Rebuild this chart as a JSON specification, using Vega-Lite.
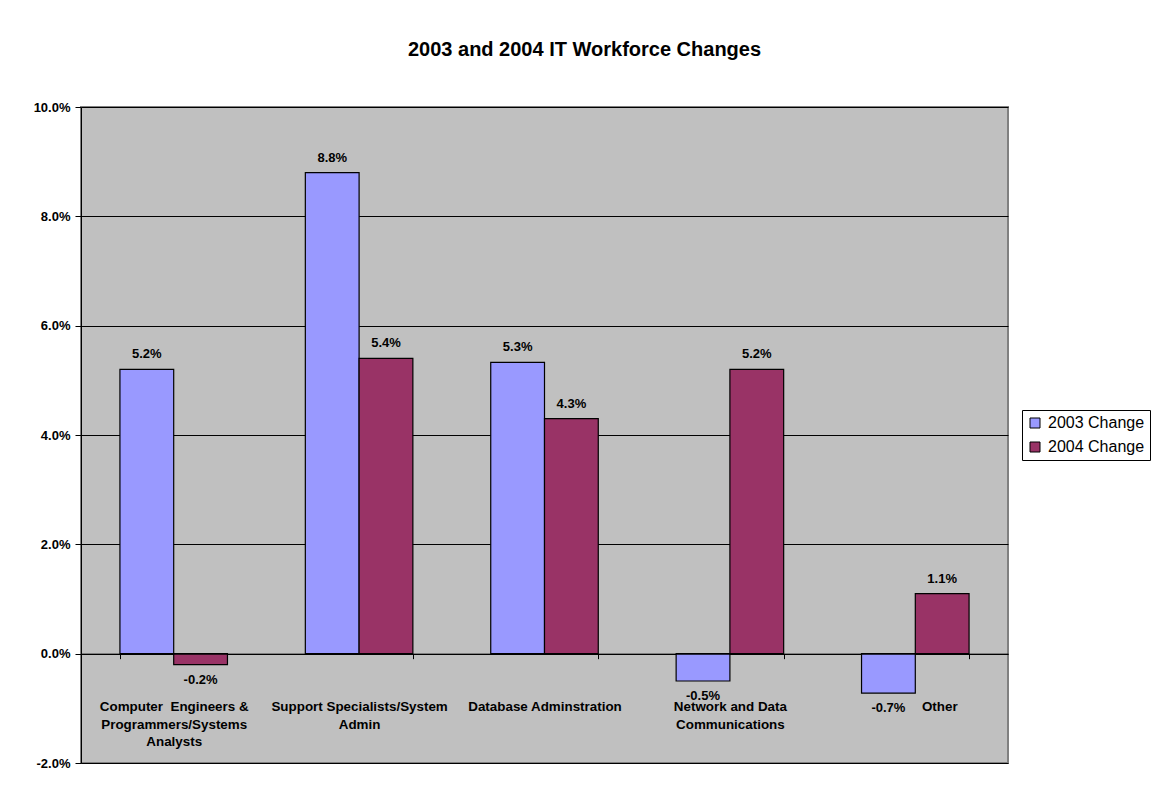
{
  "$schema": "https://vega.github.io/schema/vega-lite/v6.json",
  "width": 927,
  "height": 656,
  "autosize": "none",
  "padding": {"left": 81, "top": 107, "right": 148, "bottom": 31},
  "background": "white",
  "title": {
    "text": "2003 and 2004 IT Workforce Changes",
    "font": "Liberation Sans",
    "fontSize": 20,
    "fontWeight": "bold",
    "color": "black",
    "anchor": "middle",
    "frame": "group",
    "dx": 40,
    "baseline": "alphabetic",
    "offset": 25
  },
  "config": {
    "font": "Liberation Sans",
    "locale": {"number": {"decimal": ".", "thousands": ",", "grouping": [3], "currency": ["$", ""], "minus": "-"}},
    "view": {"fill": "#C0C0C0", "stroke": "#808080", "strokeWidth": 2}
  },
  "data": {
    "values": [
      {"category": "Computer  Engineers & Programmers/Systems Analysts", "series": "2003 Change", "value": 0.052},
      {"category": "Computer  Engineers & Programmers/Systems Analysts", "series": "2004 Change", "value": -0.002},
      {"category": "Support Specialists/System Admin", "series": "2003 Change", "value": 0.088},
      {"category": "Support Specialists/System Admin", "series": "2004 Change", "value": 0.054},
      {"category": "Database Adminstration", "series": "2003 Change", "value": 0.0533},
      {"category": "Database Adminstration", "series": "2004 Change", "value": 0.043},
      {"category": "Network and Data Communications", "series": "2003 Change", "value": -0.005},
      {"category": "Network and Data Communications", "series": "2004 Change", "value": 0.052},
      {"category": "Other", "series": "2003 Change", "value": -0.0072},
      {"category": "Other", "series": "2004 Change", "value": 0.011}
    ]
  },
  "encoding": {
    "x": {
      "field": "category",
      "type": "nominal",
      "sort": null,
      "scale": {"paddingInner": 0.42, "paddingOuter": 0.21},
      "axis": {
        "title": null,
        "orient": "bottom",
        "offset": -109.33,
        "zindex": 1,
        "domainColor": "black",
        "domainWidth": 1,
        "tickBand": "extent",
        "tickColor": "black",
        "tickSize": 5,
        "labelAngle": 0,
        "labelPadding": 41,
        "labelOffset": {"condition": {"test": "datum.value == 'Other'", "value": 24}, "value": 0},
        "labelFont": "Liberation Sans",
        "labelFontSize": 13.4,
        "labelFontWeight": "bold",
        "labelColor": "black",
        "labelLineHeight": 17.5,
        "labelLimit": 0,
        "labelExpr": "datum.value == 'Computer  Engineers & Programmers/Systems Analysts' ? ['Computer\u00a0 Engineers &', 'Programmers/Systems', 'Analysts'] : datum.value == 'Support Specialists/System Admin' ? ['Support Specialists/System', 'Admin'] : datum.value == 'Network and Data Communications' ? ['Network and Data', 'Communications'] : datum.value"
      }
    },
    "xOffset": {"field": "series", "type": "nominal"},
    "y": {
      "field": "value",
      "type": "quantitative",
      "scale": {"domain": [-0.02, 0.1], "nice": false, "zero": false},
      "axis": {
        "title": null,
        "values": [-0.02, 0, 0.02, 0.04, 0.06, 0.08, 0.1],
        "format": ".1%",
        "zindex": 0,
        "grid": true,
        "gridColor": "black",
        "gridWidth": 1,
        "gridOpacity": 1,
        "domainColor": "black",
        "tickColor": "black",
        "tickSize": 6,
        "labelPadding": 5,
        "labelFont": "Liberation Sans",
        "labelFontSize": 13,
        "labelFontWeight": "bold",
        "labelColor": "black"
      }
    }
  },
  "layer": [
    {
      "mark": {"type": "bar", "stroke": "black", "strokeWidth": 1.2},
      "encoding": {
        "color": {
          "field": "series",
          "type": "nominal",
          "scale": {"domain": ["2003 Change", "2004 Change"], "range": ["#9999FF", "#993366"]},
          "legend": {
            "title": null,
            "orient": "none",
            "legendX": 941,
            "legendY": 303,
            "strokeColor": "black",
            "fillColor": "white",
            "padding": 5,
            "symbolType": "square",
            "symbolSize": 100,
            "symbolStrokeColor": "black",
            "symbolStrokeWidth": 1,
            "labelFont": "Liberation Sans",
            "labelFontSize": 16,
            "labelColor": "black",
            "labelOffset": 5,
            "rowPadding": 8,
            "labelLimit": 0
          }
        }
      }
    },
    {
      "transform": [{"filter": "datum.value >= 0"}],
      "mark": {"type": "text", "dy": -15, "baseline": "middle", "font": "Liberation Sans", "fontSize": 13, "fontWeight": "bold", "color": "black"},
      "encoding": {"text": {"field": "value", "type": "quantitative", "format": ".1%"}}
    },
    {
      "transform": [{"filter": "datum.value < 0"}],
      "mark": {"type": "text", "dy": 15, "baseline": "middle", "font": "Liberation Sans", "fontSize": 13, "fontWeight": "bold", "color": "black"},
      "encoding": {"text": {"field": "value", "type": "quantitative", "format": ".1%"}}
    }
  ]
}
